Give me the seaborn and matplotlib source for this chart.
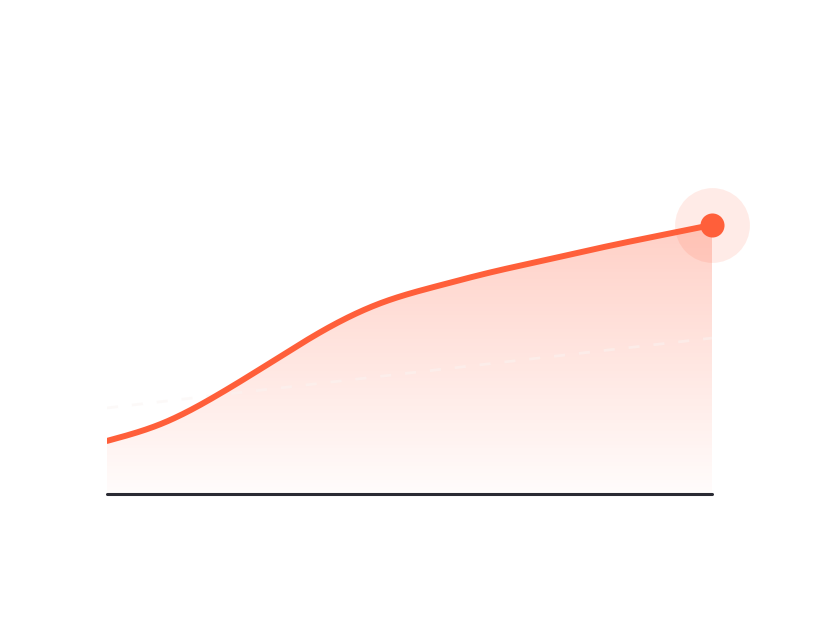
import numpy as np
import pandas as pd
import matplotlib
matplotlib.use("Agg")
import matplotlib.pyplot as plt
import seaborn as sns
from matplotlib.patches import Polygon

# values (arbitrary units, baseline = 0)
steps = list(range(12))
growth = [17.7, 23.5, 32.9, 44.1, 55.2, 63.8, 69.3, 74.0, 78.1, 82.2, 86.0, 89.7]
guide = [28.7, 52.0]  # faint dashed reference line, start and end

LINE = "#ff5f3a"


def smooth(x, y, n=40):
    # natural cubic spline, only used to draw a smooth curve through the points
    x = np.asarray(x, float)
    y = np.asarray(y, float)
    k = len(x)
    h = np.diff(x)
    A = np.zeros((k, k))
    b = np.zeros(k)
    A[0, 0] = A[-1, -1] = 1
    for i in range(1, k - 1):
        A[i, i - 1] = h[i - 1]
        A[i, i] = 2 * (h[i - 1] + h[i])
        A[i, i + 1] = h[i]
        b[i] = 6 * ((y[i + 1] - y[i]) / h[i] - (y[i] - y[i - 1]) / h[i - 1])
    M = np.linalg.solve(A, b)
    xs, ys = [], []
    for i in range(k - 1):
        t = np.linspace(x[i], x[i + 1], n, endpoint=False)
        a = (x[i + 1] - t) / h[i]
        c = (t - x[i]) / h[i]
        s = (a * y[i] + c * y[i + 1]
             + ((a**3 - a) * M[i] + (c**3 - c) * M[i + 1]) * h[i]**2 / 6)
        xs.append(t)
        ys.append(s)
    xs.append([x[-1]])
    ys.append([y[-1]])
    return np.concatenate(xs), np.concatenate(ys)


def main():
    sns.set_theme(style="white")
    sx, sy = smooth(steps, growth)
    df = pd.DataFrame({"step": sx, "value": sy})

    fig = plt.figure(figsize=(8.2, 6.2), dpi=100)
    ax = fig.add_axes([0.1305, 0.2032, 0.7378, 0.5806])
    ax.set_xlim(steps[0], steps[-1])
    ax.set_ylim(0, 120)

    # gradient area under the curve
    verts = [(steps[0], 0)] + list(zip(sx, sy)) + [(steps[-1], 0)]
    clip = Polygon(verts, closed=True, facecolor="none", edgecolor="none")
    ax.add_patch(clip)
    grad = np.linspace(0.02, 0.32, 256).reshape(-1, 1)
    rgba = np.zeros((256, 1, 4))
    rgba[..., 0] = 1.0
    rgba[..., 1] = 0.42
    rgba[..., 2] = 0.30
    rgba[..., 3] = grad
    img = ax.imshow(rgba, extent=[steps[0], steps[-1], 0, max(growth)],
                    origin="lower", aspect="auto", zorder=1)
    img.set_clip_path(clip)

    # faint dashed guide
    ax.plot([steps[0], steps[-1]], guide, ls=(0, (4, 5)), color="#faf4f2",
            lw=2, alpha=0.5, zorder=2)

    sns.lineplot(data=df, x="step", y="value", ax=ax, color=LINE, lw=4.3,
                 zorder=3, solid_capstyle="round", estimator=None, sort=False)

    # end marker with halo
    ax.scatter([steps[-1]], [growth[-1]], s=2900, color=LINE, alpha=0.12,
               linewidths=0, zorder=4, clip_on=False)
    ax.scatter([steps[-1]], [growth[-1]], s=300, color=LINE,
               linewidths=0, zorder=5, clip_on=False)

    ax.axhline(0, color="#2a2a33", lw=2.2, zorder=6, clip_on=False)

    ax.set_xlabel("")
    ax.set_ylabel("")
    ax.set_xticks([])
    ax.set_yticks([])
    sns.despine(ax=ax, left=True, bottom=True)
    ax.set_facecolor("white")

    fig.savefig("out.png", dpi=100, facecolor="white")


if __name__ == "__main__":
    main()
